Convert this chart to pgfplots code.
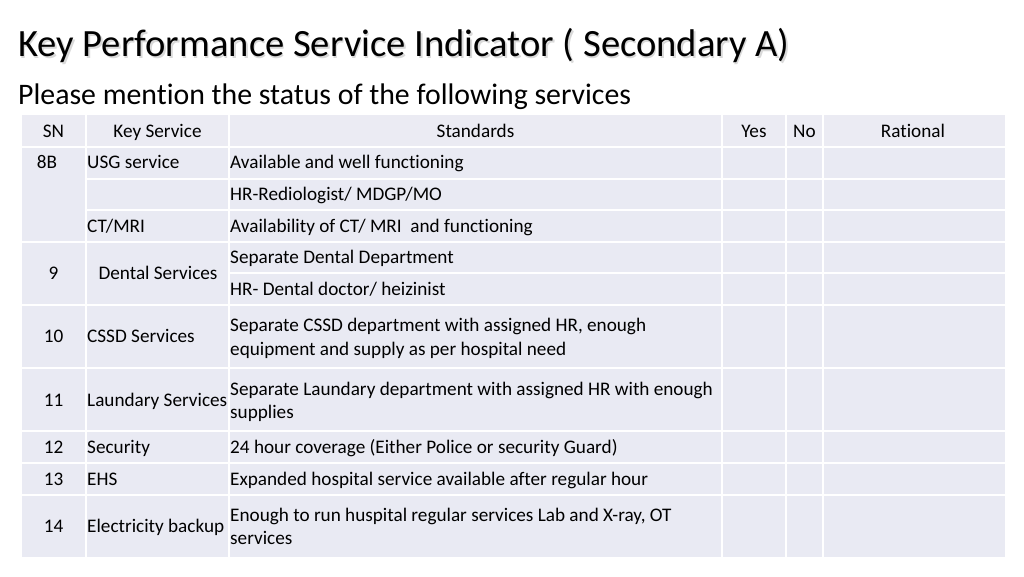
\documentclass[border=0pt]{standalone}
\usepackage{pgfplots}
\pgfplotsset{compat=1.18}
\usepackage{fontspec}
\setmainfont{Carlito}[Ligatures={NoCommon}]
\definecolor{cellbg}{HTML}{E9EAF3}
\definecolor{hdrbg}{HTML}{EBEBF3}
\newcommand{\tf}{\fontsize{19.2bp}{24bp}\selectfont}
\begin{document}
\begin{tikzpicture}
\begin{axis}[width=1024bp, height=576bp, scale only axis,
  xmin=0, xmax=1024, ymin=0, ymax=576, y dir=reverse,
  hide axis, clip=false]
\path (axis cs:0,0) rectangle (axis cs:1024,576);
% backgrounds
\addplot[draw=none, fill=cellbg] coordinates {(22,147) (1005,147) (1005,557) (22,557)} -- cycle;
\addplot[draw=none, fill=hdrbg] coordinates {(22,115) (1005,115) (1005,147) (22,147)} -- cycle;
% vertical lines
\foreach \x in {86,229,722,786,823} {
  \edef\tmp{\noexpand\addplot[white, line width=1.6bp] coordinates {(\x,115) (\x,557)};}\tmp
}
% horizontal full lines
\foreach \y in {147,242,305,368,431,463,495} {
  \edef\tmp{\noexpand\addplot[white, line width=1.6bp] coordinates {(22,\y) (1005,\y)};}\tmp
}
\foreach \y in {179,210} {
  \edef\tmp{\noexpand\addplot[white, line width=1.6bp] coordinates {(86,\y) (1005,\y)};}\tmp
}
\addplot[white, line width=1.6bp] coordinates {(229,273) (1005,273)};
% title
\node[anchor=base west, inner sep=0, text=gray!30, font=\fontsize{38.6bp}{44bp}\selectfont] at (axis cs:19.5,58.5) {Key Performance Service Indicator ( Secondary A)};
\node[anchor=base west, inner sep=0, font=\fontsize{38.6bp}{44bp}\selectfont] at (axis cs:18,57) {Key Performance Service Indicator ( Secondary A)};
\node[anchor=base west, inner sep=0, font=\fontsize{29.8bp}{34bp}\selectfont] at (axis cs:18,104) {Please mention the status of the following services};
% header
\begin{scope}[every node/.style={inner sep=0, font=\tf}]
\node[anchor=base] at (axis cs:53.5,137) {SN};
\node[anchor=base] at (axis cs:157.5,137) {Key Service};
\node[anchor=base] at (axis cs:475.5,137) {Standards};
\node[anchor=base] at (axis cs:754,137) {Yes};
\node[anchor=base] at (axis cs:804.5,137) {No};
\node[anchor=base] at (axis cs:913,137) {Rational};
% rows
\node[anchor=base] at (axis cs:47,168) {8B};
\node[anchor=base west] at (axis cs:87,168) {USG service};
\node[anchor=base west] at (axis cs:230,168) {Available and well functioning};
\node[anchor=base west] at (axis cs:230,200) {HR-Rediologist/ MDGP/MO};
\node[anchor=base west] at (axis cs:87,232) {CT/MRI};
\node[anchor=base west] at (axis cs:230,232) {Availability of CT/ MRI \ and functioning};
\node[anchor=base west] at (axis cs:230,263.5) {Separate Dental Department};
\node[anchor=base west] at (axis cs:230,295) {HR- Dental doctor/ heizinist};
\node[anchor=base] at (axis cs:53.5,279) {9};
\node[anchor=base] at (axis cs:158,279) {Dental Services};
\node[anchor=base] at (axis cs:53.5,342.5) {10};
\node[anchor=base west] at (axis cs:87,342.5) {CSSD Services};
\node[anchor=base west] at (axis cs:230,331) {Separate CSSD department with assigned HR, enough};
\node[anchor=base west] at (axis cs:230,355) {equipment and supply as per hospital need};
\node[anchor=base] at (axis cs:53.5,406) {11};
\node[anchor=base west] at (axis cs:87,406) {Laundary Services};
\node[anchor=base west] at (axis cs:230,395) {Separate Laundary department with assigned HR with enough};
\node[anchor=base west] at (axis cs:230,418) {supplies};
\node[anchor=base] at (axis cs:53.5,453) {12};
\node[anchor=base west] at (axis cs:87,453) {Security};
\node[anchor=base west] at (axis cs:230,453) {24 hour coverage (Either Police or security Guard)};
\node[anchor=base] at (axis cs:53.5,485) {13};
\node[anchor=base west] at (axis cs:87,485) {EHS};
\node[anchor=base west] at (axis cs:230,485) {Expanded hospital service available after regular hour};
\node[anchor=base] at (axis cs:53.5,532) {14};
\node[anchor=base west] at (axis cs:87,532) {Electricity backup};
\node[anchor=base west] at (axis cs:230,521) {Enough to run huspital regular services Lab and X-ray, OT};
\node[anchor=base west] at (axis cs:230,544) {services};
\end{scope}
\end{axis}
\end{tikzpicture}
\end{document}
